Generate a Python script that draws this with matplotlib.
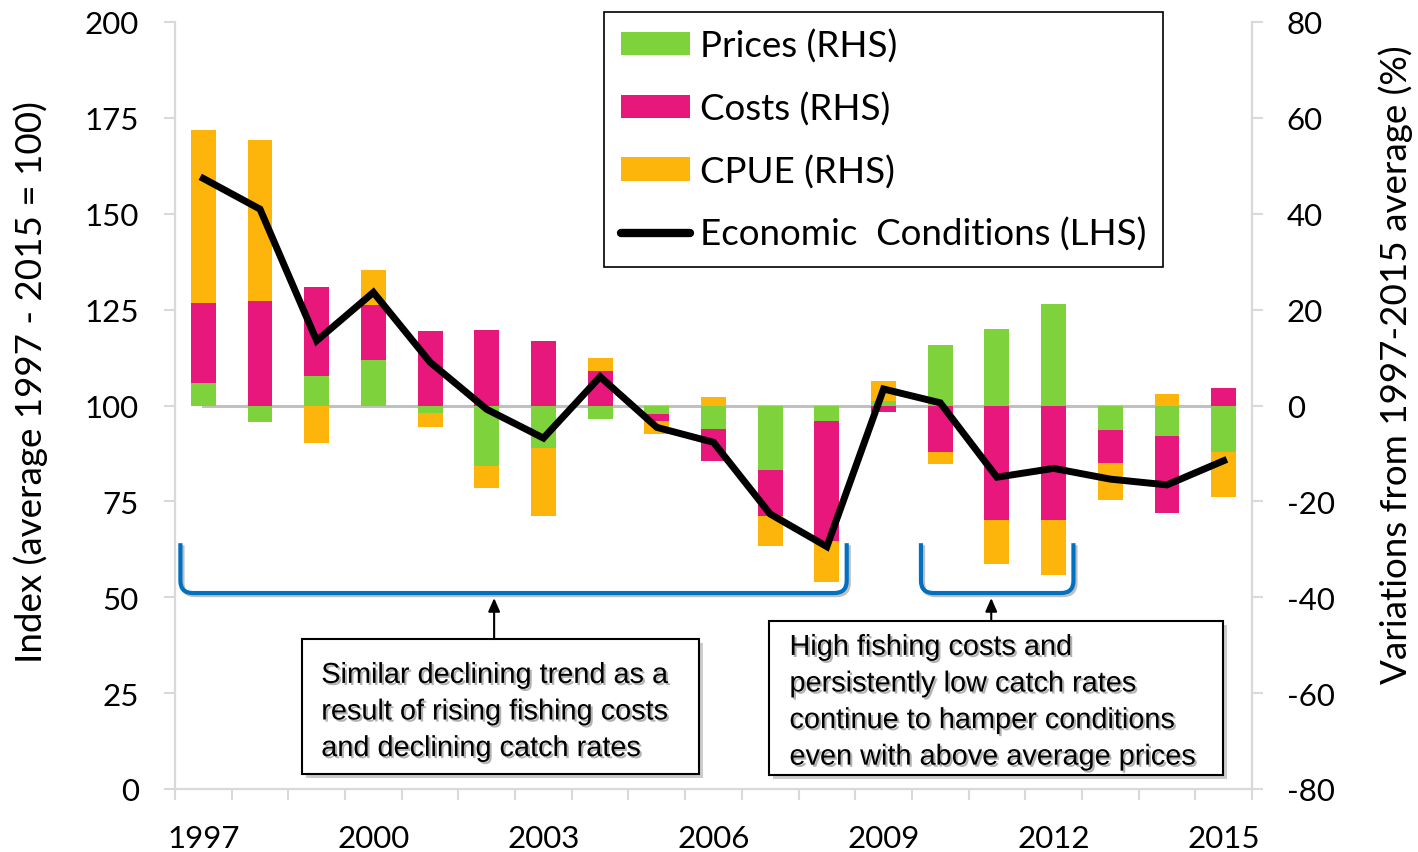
import numpy as np
import matplotlib
matplotlib.use("Agg")
import matplotlib.pyplot as plt
from matplotlib.patches import Rectangle, PathPatch, Patch
from matplotlib.path import Path
from matplotlib.lines import Line2D
import matplotlib.patheffects as pe

plt.rcParams["axes.unicode_minus"] = False

# ---------------- data ----------------
years = list(range(1997, 2016))
prices = [4.7, -3.5, 6.1, 9.4, -1.6, -12.6, -8.9, -2.8, -1.7, -4.8,
          -13.5, -3.2, 1.0, 12.7, 15.9, 21.2, -5.2, -6.3, -9.7]
costs = [16.7, 21.7, 18.7, 11.5, 15.5, 15.8, 13.4, 7.2, -1.5, -6.7,
         -9.6, -25.1, -1.4, -9.7, -23.8, -23.8, -6.7, -16.2, 3.6]
cpue = [36.0, 33.7, -7.8, 7.4, -2.9, -4.7, -14.2, 2.7, -2.7, 1.8,
        -6.3, -8.6, 4.2, -2.4, -9.3, -11.6, -7.9, 2.3, -9.3]
econ = [159.2, 151.2, 116.9, 129.5, 111.3, 99.0, 91.5, 107.5, 94.3, 90.4,
        71.7, 63.2, 104.3, 100.7, 81.3, 83.6, 80.8, 79.3, 85.6]
series_names = ["Prices (RHS)", "Costs (RHS)", "CPUE (RHS)"]
line_name = "Economic  Conditions (LHS)"
left_label = "Index (average 1997 - 2015 = 100)"
right_label = "Variations from 1997-2015 average (%)"
note_left = "Similar declining trend as a\nresult of rising fishing costs\nand declining catch rates"
note_right = ("High fishing costs and\npersistently low catch rates\n"
              "continue to hamper conditions\neven with above average prices")
label_years = [1997, 2000, 2003, 2006, 2009, 2012, 2015]

colors = ["#7ED23C", "#E8177B", "#FDB50B"]
gray = "#D9D9D9"
blue = "#0070C0"
FONT = "Lato"
ARIAL = "Liberation Sans"

W, H = 1418, 853
fig = plt.figure(figsize=(W / 100, H / 100), dpi=100)
L, R, B, T = 175, 1252, 790, 23
ax = fig.add_axes([L / W, 1 - B / H, (R - L) / W, (B - T) / H])
ax2 = ax.twinx()

x = np.arange(len(years))

# ---------------- bars (RHS) ----------------
pos_bottom = np.zeros(len(years))
neg_bottom = np.zeros(len(years))
for vals, col, name in zip([prices, costs, cpue], colors, series_names):
    v = np.array(vals, dtype=float)
    bottom = np.where(v >= 0, pos_bottom, neg_bottom)
    ax2.bar(x, v, bottom=bottom, width=0.44, color=col, linewidth=0, zorder=3)
    pos_bottom = pos_bottom + np.where(v > 0, v, 0)
    neg_bottom = neg_bottom + np.where(v < 0, v, 0)

ax2.plot([x[0], x[-1]], [0, 0], color="#C0C0C0", lw=2.2, zorder=2)
ax2.set_ylim(-80, 80)
ax2.set_yticks(np.arange(-80, 81, 20))

# ---------------- line (LHS) ----------------
ax.set_zorder(ax2.get_zorder() + 1)
ax.patch.set_visible(False)
ax.plot(x, econ, color="black", lw=5.0, solid_joinstyle="miter", zorder=5)
ax.set_ylim(0, 200)
ax.set_yticks(np.arange(0, 201, 25))
ax.set_xlim(-0.5, len(years) - 0.5)

# x ticks: marks at category boundaries, labels every 3 years
ax.set_xticks(np.arange(-0.5, len(years), 1.0))
ax.set_xticklabels([])
lab_pos = [years.index(y) for y in label_years]
ax.set_xticks(lab_pos, minor=True)
ax.set_xticklabels([str(y) for y in label_years], minor=True)
ax.tick_params(axis="x", which="major", length=8, width=1.5, color=gray, direction="out")
ax.tick_params(axis="x", which="minor", length=0, pad=25, labelsize=22.5)

for a in (ax, ax2):
    for s in a.spines.values():
        s.set_color(gray)
        s.set_linewidth(1.6)
    a.spines["top"].set_visible(False)
ax.spines["right"].set_visible(False)
ax2.spines["left"].set_visible(False)
ax2.spines["bottom"].set_visible(False)

ax.tick_params(axis="y", length=8, width=1.5, color=gray, pad=18, labelsize=22.5)
ax2.tick_params(axis="y", length=8, width=1.5, color=gray, pad=17, labelsize=22.5)
for lab in ax.get_xticklabels(minor=True) + ax.get_yticklabels() + ax2.get_yticklabels():
    lab.set_fontfamily(FONT)

ax.set_ylabel(left_label, fontsize=26.5, fontfamily=FONT)
ax.yaxis.set_label_coords(-0.118, 0.532)
ax2.set_ylabel(right_label, fontsize=26.5, fontfamily=FONT, rotation=90)
ax2.yaxis.set_label_coords(1.117, 0.554)

# ---------------- brackets ----------------
lshadow = [pe.SimpleLineShadow(offset=(1.5, -1.5), shadow_color="black", alpha=0.25), pe.Normal()]


def bracket(x0, x1, ytop, ybot, rx=0.22, ry=3.2):
    verts = [(x0, ytop), (x0, ybot + ry), (x0, ybot), (x0 + rx, ybot),
             (x1 - rx, ybot), (x1, ybot), (x1, ybot + ry), (x1, ytop)]
    codes = [Path.MOVETO, Path.LINETO, Path.CURVE3, Path.CURVE3,
             Path.LINETO, Path.CURVE3, Path.CURVE3, Path.LINETO]
    p = PathPatch(Path(verts, codes), facecolor="none", edgecolor=blue, lw=3.0,
                  zorder=6, capstyle="butt", joinstyle="round", fill=False)
    p.set_path_effects(lshadow)
    ax.add_patch(p)


bracket(-0.405, 11.35, 64.1, 51.1)
bracket(12.66, 15.35, 64.1, 51.1)

# ---------------- annotation boxes ----------------
for (bx0, bx1, by0, by1) in [(1.735, 8.745, 3.9, 39.1), (9.98, 17.99, 3.7, 43.9)]:
    r = Rectangle((bx0, by0), bx1 - bx0, by1 - by0, facecolor="white",
                  edgecolor="black", lw=1.5, zorder=6)
    r.set_path_effects([pe.SimplePatchShadow(offset=(3, -3), shadow_rgbFace="black", alpha=0.2), pe.Normal()])
    ax.add_patch(r)

tshadow = [pe.SimplePatchShadow(offset=(1.5, -1.5), shadow_rgbFace="black", alpha=0.3), pe.Normal()]
ax.text(2.08, 33.4, note_left, fontsize=20.8, fontfamily=ARIAL, va="top", ha="left",
        linespacing=1.39, zorder=7, path_effects=tshadow)
ax.text(10.34, 40.7, note_right, fontsize=20.8, fontfamily=ARIAL, va="top", ha="left",
        linespacing=1.39, zorder=7, path_effects=tshadow)

# arrows
for ax_x, y0 in [(5.13, 39.1), (13.9, 43.9)]:
    ax.annotate("", xy=(ax_x, 49.8), xytext=(ax_x, y0),
                arrowprops=dict(arrowstyle="-|>,head_length=0.8,head_width=0.35",
                                color="black", lw=1.5, shrinkA=0, shrinkB=0),
                zorder=7)

# ---------------- legend ----------------
handles = [Patch(facecolor=c, edgecolor="none") for c in colors]
handles.append(Line2D([0], [0], color="black", lw=6, solid_capstyle="round"))
leg = ax.legend(handles, series_names + [line_name], loc="upper left",
                bbox_to_anchor=(604 / W, 1 - 13 / H), bbox_transform=fig.transFigure,
                borderaxespad=0, fancybox=False, framealpha=1, edgecolor="black",
                prop={"family": FONT, "size": 26.5}, handlelength=1.9, handleheight=0.6,
                handletextpad=0.27, labelspacing=0.78, borderpad=0.45)
leg.get_frame().set_linewidth(1.2)
leg.set_zorder(10)

fig.savefig("out.png", dpi=100)
